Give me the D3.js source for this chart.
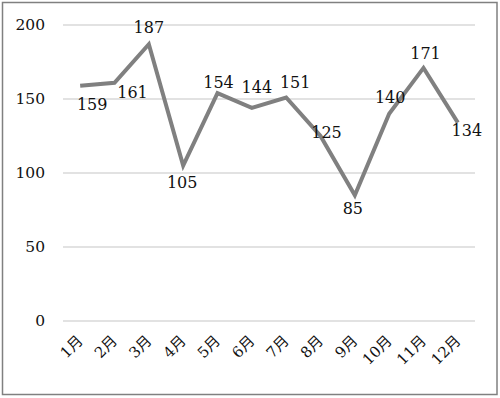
<!DOCTYPE html>
<html><head><meta charset="utf-8">
<script src="https://cdn.jsdelivr.net/npm/d3@7"></script>
<style>body{margin:0;background:#fff}svg{display:block}</style>
</head><body>
<script>
const categories = ["1月","2月","3月","4月","5月","6月","7月","8月","9月","10月","11月","12月"];
const values = [159,161,187,105,154,144,151,125,85,140,171,134];
const yTicks = [0,50,100,150,200];
// label offsets (layout)
const labelDx = [12,18,0,-1,1,5,9,6,-2,1,2,9];
const labelDy = [19,10,-17,17,-11,-20,-15,-4,13,-16,-15,8];

const W=500,H=398;
const svg=d3.select("body").append("svg").attr("width",W).attr("height",H);
svg.append("rect").attr("x",2.5).attr("y",2.5).attr("width",W-5.5).attr("height",H-6)
  .attr("fill","#fff").attr("stroke","#808080").attr("stroke-width",1.5);
const font="'DejaVu Serif','Noto Sans CJK JP',serif";
const x=d3.scaleBand().domain(categories).range([63,475]);
const y=d3.scaleLinear().domain([0,200]).range([321,25]);

svg.append("g").selectAll("line").data(yTicks).join("line")
  .attr("x1",63).attr("x2",475).attr("y1",d=>y(d)).attr("y2",d=>y(d))
  .attr("stroke","#d9d9d9").attr("stroke-width",1.3);
svg.append("g").selectAll("text").data(yTicks).join("text")
  .attr("x",45).attr("y",d=>y(d)).attr("dy","0.35em").attr("text-anchor","end")
  .attr("font-family",font).attr("font-size",15.5).attr("fill","#111").text(d=>d);
svg.append("g").selectAll("text").data(categories).join("text")
  .attr("transform",d=>`translate(${x(d)+x.bandwidth()/2},${338}) rotate(-45)`)
  .attr("text-anchor","end").attr("dy","0.35em")
  .attr("font-family",font).attr("font-size",15).attr("fill","#111").text(d=>d);
const cx=(d,i)=>x(categories[i])+x.bandwidth()/2;
svg.append("path").datum(values)
  .attr("d",d3.line().x(cx).y(d=>y(d)))
  .attr("fill","none").attr("stroke","#808080").attr("stroke-width",4).attr("stroke-linejoin","miter");
svg.append("g").selectAll("text").data(values).join("text")
  .attr("x",(d,i)=>cx(d,i)+labelDx[i]).attr("y",(d,i)=>y(d)+labelDy[i]).attr("dy","0.35em")
  .attr("text-anchor","middle").attr("font-family",font).attr("font-size",16).attr("fill","#111").text(d=>d);
</script>
</body></html>
